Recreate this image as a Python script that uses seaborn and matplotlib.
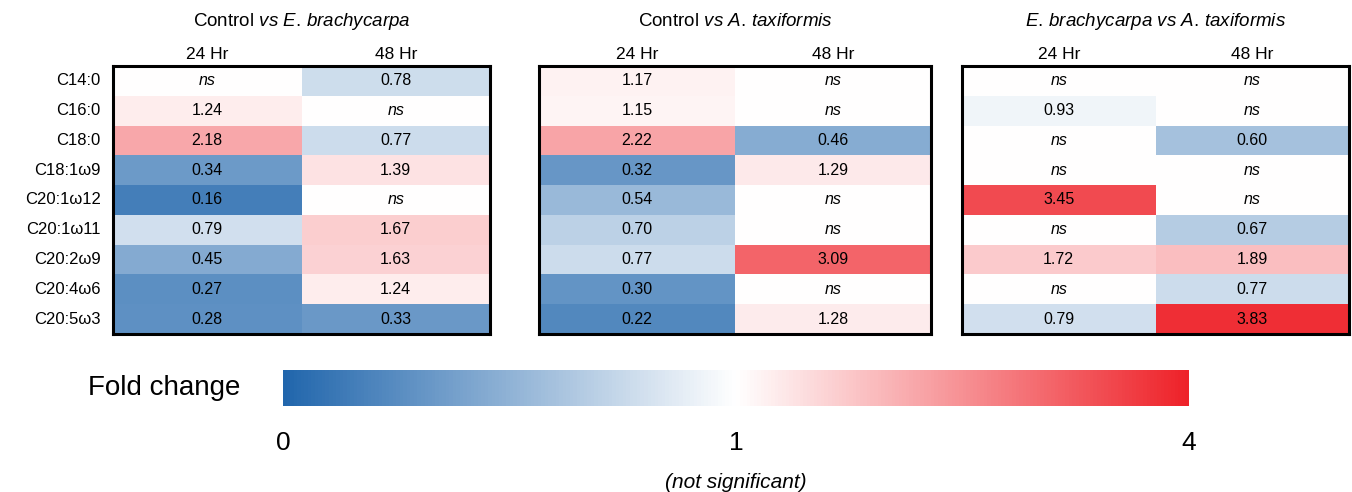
import numpy as np
import pandas as pd
import matplotlib

matplotlib.use("Agg")
import matplotlib.pyplot as plt
import seaborn as sns
from matplotlib.colors import LinearSegmentedColormap, TwoSlopeNorm

# ---------------- data ----------------
nan = np.nan
fatty_acids = ["C14:0", "C16:0", "C18:0", "C18:1ω9", "C20:1ω12",
               "C20:1ω11", "C20:2ω9", "C20:4ω6", "C20:5ω3"]
timepoints = ["24 Hr", "48 Hr"]
titles = [r"Control $\it{vs}$ $\it{E.\,brachycarpa}$",
          r"Control $\it{vs}$ $\it{A.\,taxiformis}$",
          r"$\it{E.\,brachycarpa}$ $\it{vs}$ $\it{A.\,taxiformis}$"]

ctrl_ebr_24 = [nan, 1.24, 2.18, 0.34, 0.16, 0.79, 0.45, 0.27, 0.28]
ctrl_ebr_48 = [0.78, nan, 0.77, 1.39, nan, 1.67, 1.63, 1.24, 0.33]
ctrl_atx_24 = [1.17, 1.15, 2.22, 0.32, 0.54, 0.70, 0.77, 0.30, 0.22]
ctrl_atx_48 = [nan, nan, 0.46, 1.29, nan, nan, 3.09, nan, 1.28]
ebr_atx_24 = [nan, 0.93, nan, nan, 3.45, nan, 1.72, nan, 0.79]
ebr_atx_48 = [nan, nan, 0.60, nan, nan, 0.67, 1.89, 0.77, 3.83]

panels = [
    (ctrl_ebr_24, ctrl_ebr_48),
    (ctrl_atx_24, ctrl_atx_48),
    (ebr_atx_24, ebr_atx_48),
]

cbar_ticks = [0, 1, 4]

# ---------------- style ----------------
sns.set_theme(style="white")
plt.rcParams["font.family"] = ["Liberation Sans", "DejaVu Sans"]
plt.rcParams["mathtext.fontset"] = "custom"
plt.rcParams["mathtext.rm"] = "Liberation Sans"
plt.rcParams["mathtext.it"] = "Liberation Sans:italic"
plt.rcParams["text.color"] = "black"
plt.rcParams["xtick.color"] = "black"
plt.rcParams["ytick.color"] = "black"

cmap = LinearSegmentedColormap.from_list("fc", ["#2166ac", "#ffffff", "#ee2229"])
norm = TwoSlopeNorm(vmin=0, vcenter=1, vmax=4)

fig = plt.figure(figsize=(13.52, 4.92), dpi=100)

W, H = 1352, 492
boxes = [(113, 490), (539, 931), (962, 1349)]
top, bottom = 66, 334

mesh = None
for i, ((c24, c48), (x0, x1)) in enumerate(zip(panels, boxes)):
    ax = fig.add_axes([x0 / W, 1 - bottom / H, (x1 - x0) / W, (bottom - top) / H])
    df = pd.DataFrame({timepoints[0]: c24, timepoints[1]: c48}, index=fatty_acids)
    labels = df.map(lambda v: "ns" if pd.isna(v) else f"{v:.2f}")
    sns.heatmap(df.fillna(1.0), ax=ax, cmap=cmap, norm=norm, cbar=False,
                annot=labels.values, fmt="", linewidths=0,
                annot_kws={"color": "black", "fontsize": 11.5})
    for t in ax.texts:
        if t.get_text() == "ns":
            t.set_fontstyle("italic")
    mesh = ax.collections[0]

    for s in ax.spines.values():
        s.set_visible(True)
        s.set_color("black")
        s.set_linewidth(2.2)

    ax.xaxis.tick_top()
    ax.tick_params(axis="x", length=0, pad=3, labelsize=12.5)
    ax.set_xticklabels(timepoints, rotation=0)
    if i == 0:
        ax.tick_params(axis="y", length=0, pad=9, labelsize=12)
        ax.set_yticklabels(fatty_acids, rotation=0)
    else:
        ax.set_yticks([])
    ax.set_xlabel("")
    ax.set_ylabel("")
    ax.text(0.5, 1 + (top - 22) / (bottom - top), titles[i], transform=ax.transAxes,
            ha="center", va="center", fontsize=13.5)

# ---------------- colour bar ----------------
cax = fig.add_axes([283 / W, 1 - 406 / H, (1189 - 283) / W, 36 / H])
cbar = fig.colorbar(mesh, cax=cax, orientation="horizontal", ticks=cbar_ticks)
cbar.outline.set_visible(False)
cax.tick_params(length=0, pad=18, labelsize=19)
cax.set_xticklabels([str(t) for t in cbar_ticks])

fig.text(88 / W, 1 - 388 / H, "Fold change", ha="left", va="center", fontsize=20)
fig.text(736 / W, 1 - 482 / H, "(not significant)", ha="center", va="center",
         fontsize=15, fontstyle="italic")

fig.savefig("out.png", dpi=100)
